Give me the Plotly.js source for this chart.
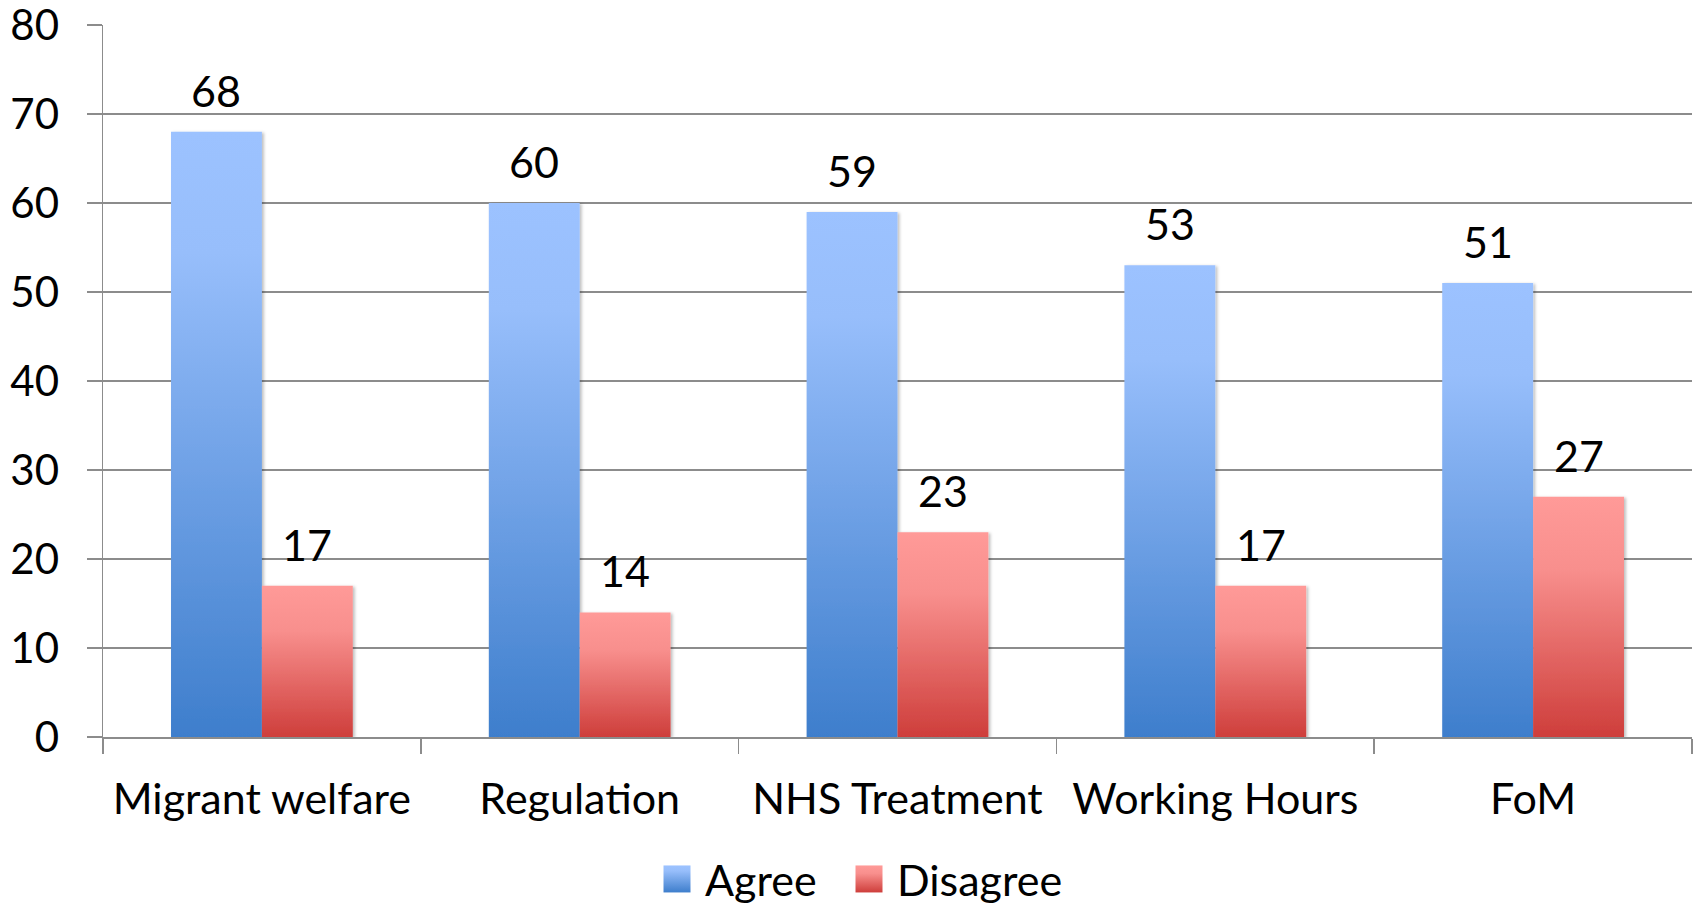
<!DOCTYPE html>
<html>
<head>
<meta charset="utf-8">
<script src="https://cdn.plot.ly/plotly-3.0.1.min.js"></script>
<style>
  html, body { margin: 0; padding: 0; background: #fff; }
  #chart { width: 1700px; height: 907px; }
</style>
</head>
<body>
<div id="chart"></div>
<script>
const categories = ["Migrant welfare", "Regulation", "NHS Treatment", "Working Hours", "FoM"];
const agreeValues = [68, 60, 59, 53, 51];
const disagreeValues = [17, 14, 23, 17, 27];
const seriesNames = ["Agree", "Disagree"];
const yTicks = [0, 10, 20, 30, 40, 50, 60, 70, 80];

const FONT = "Lato, 'Open Sans', sans-serif";
const FS = 43;

const traces = [
  { type: "bar", name: seriesNames[0], x: categories, y: agreeValues, legend: "legend",
    marker: { color: "#6B9FE6", line: { width: 0 } }, hoverinfo: "skip" },
  { type: "bar", name: seriesNames[1], x: categories, y: disagreeValues, legend: "legend2",
    marker: { color: "#E86A68", line: { width: 0 } }, hoverinfo: "skip" }
];

const barOffset = 0.143;
const annotations = [];
categories.forEach((c, i) => {
  annotations.push({ x: i - barOffset, y: agreeValues[i], xref: "x", yref: "y",
    text: String(agreeValues[i]), showarrow: false, yanchor: "bottom", yshift: 14,
    font: { family: FONT, size: FS, color: "#000" } });
  annotations.push({ x: i + barOffset, y: disagreeValues[i], xref: "x", yref: "y",
    text: String(disagreeValues[i]), showarrow: false, yanchor: "bottom", yshift: 14,
    font: { family: FONT, size: FS, color: "#000" } });
});

function legendCfg(xPx) {
  return { orientation: "h", xref: "container", x: xPx / 1700, xanchor: "left",
    yref: "container", y: 28 / 907, yanchor: "middle",
    font: { family: FONT, size: FS, color: "#000" }, itemwidth: 30,
    bgcolor: "rgba(0,0,0,0)", borderwidth: 0 };
}

const layout = {
  width: 1700, height: 907,
  margin: { l: 103, r: 8, t: 25, b: 170, autoexpand: false },
  paper_bgcolor: "#ffffff", plot_bgcolor: "#ffffff",
  font: { family: FONT, size: FS, color: "#000" },
  barmode: "group", bargap: 0.428, bargroupgap: 0,
  showlegend: true,
  legend: legendCfg(665),
  legend2: legendCfg(857),
  xaxis: { type: "category", showgrid: false, zeroline: false,
    showline: true, linecolor: "#8c8c8c", linewidth: 1.5,
    ticks: "outside", tickson: "boundaries", ticklen: 15, tickwidth: 1.5, tickcolor: "#8c8c8c",
    tickfont: { family: FONT, size: FS, color: "#000" }, ticklabelstandoff: 24, fixedrange: true },
  yaxis: { range: [0, 80], tickvals: yTicks, ticktext: yTicks.map(String),
    showgrid: true, gridcolor: "#8c8c8c", gridwidth: 1.5, zeroline: false,
    showline: true, linecolor: "#8c8c8c", linewidth: 1.5,
    ticks: "outside", ticklen: 15, tickwidth: 1.5, tickcolor: "#8c8c8c",
    ticklabeloverflow: "allow",
    tickfont: { family: FONT, size: 42, color: "#000" }, ticklabelstandoff: 19, fixedrange: true },
  annotations: annotations
};

Plotly.newPlot("chart", traces, layout, { displayModeBar: false, staticPlot: true }).then(gd => {
  const svg = gd.querySelector("svg.main-svg");
  const ns = "http://www.w3.org/2000/svg";
  let defs = svg.querySelector("defs");
  if (!defs) { defs = document.createElementNS(ns, "defs"); svg.insertBefore(defs, svg.firstChild); }
  function grad(id, stops) {
    const g = document.createElementNS(ns, "linearGradient");
    g.setAttribute("id", id);
    g.setAttribute("x1", "0"); g.setAttribute("y1", "0");
    g.setAttribute("x2", "0"); g.setAttribute("y2", "1");
    stops.forEach(s => {
      const st = document.createElementNS(ns, "stop");
      st.setAttribute("offset", s[0]); st.setAttribute("stop-color", s[1]);
      g.appendChild(st);
    });
    defs.appendChild(g);
  }
  grad("gradAgree", [["0", "#9CC2FF"], ["0.2", "#97BEFB"], ["1", "#3E7ECC"]]);
  grad("gradDisagree", [["0", "#FF9A98"], ["0.3", "#F88F8D"], ["1", "#CE3E3B"]]);
  const f = document.createElementNS(ns, "filter");
  f.setAttribute("id", "barShadow");
  f.setAttribute("x", "-10%"); f.setAttribute("y", "-5%");
  f.setAttribute("width", "130%"); f.setAttribute("height", "110%");
  const ds = document.createElementNS(ns, "feDropShadow");
  ds.setAttribute("dx", "2"); ds.setAttribute("dy", "1");
  ds.setAttribute("stdDeviation", "1.5"); ds.setAttribute("flood-color", "#000");
  ds.setAttribute("flood-opacity", "0.25");
  f.appendChild(ds); defs.appendChild(f);

  const ids = ["gradAgree", "gradDisagree"];
  gd.querySelectorAll(".barlayer .trace").forEach((tr, i) => {
    tr.querySelectorAll("path").forEach(p => {
      p.style.fill = "url(#" + ids[i] + ")";
      p.setAttribute("filter", "url(#barShadow)");
    });
  });
  gd.querySelectorAll(".legendpoints path").forEach(p => {
    const orig = (p.style.fill || "").replace(/\s/g, "");
    const gid = orig.indexOf("232,106,104") >= 0 ? ids[1] : ids[0];
    p.style.fill = "url(#" + gid + ")";
    p.style.stroke = "none";
    p.style.strokeWidth = "0";
    p.setAttribute("d", "M-21.5,-13.5H5.5V13.5H-21.5Z");
  });
  gd.querySelectorAll(".infolayer > g").forEach(g => {
    if (/legend/.test(g.getAttribute("class") || "")) {
      g.querySelectorAll("[clip-path]").forEach(el => el.removeAttribute("clip-path"));
    }
  });
});
</script>
</body>
</html>
